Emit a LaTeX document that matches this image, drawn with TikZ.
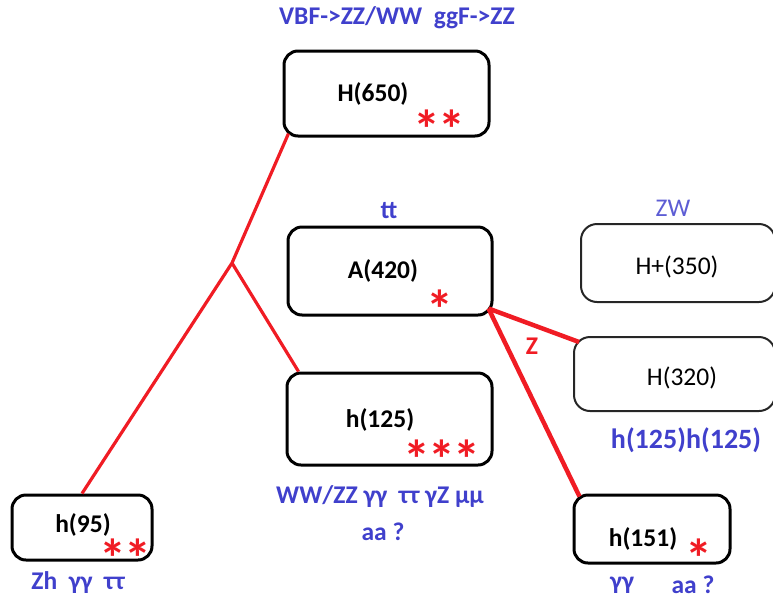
\documentclass[tikz,border=0pt]{standalone}
\usepackage{fontspec}
\setmainfont{Carlito}
\usepackage{tikz}

\definecolor{hblue}{RGB}{64,64,204}
\definecolor{hred}{RGB}{240,28,36}

\begin{document}
\begin{tikzpicture}[x=1pt, y=-1pt,
  box/.style = {draw, rounded corners=14pt, line width=3pt},
  thinbox/.style = {draw=black!85, rounded corners=16pt, line width=2pt},
  mass/.style = {font=\fontsize{25.5}{27}\selectfont\bfseries},
  thinmass/.style = {font=\fontsize{25.5}{27}\selectfont},
  decay/.style = {text=hblue, font=\fontsize{25.5}{27}\selectfont\bfseries},
  link/.style = {draw=hred, line width=3.2pt},
  star/.style = {text=hred, inner sep=0pt, yshift=-30pt, font=\fontsize{54}{54}\selectfont\bfseries}]
\useasboundingbox (0,0) rectangle (773,603);
% boxes
\node[box, minimum width=205pt, minimum height=85pt] (h650) at (386.5,93.5) {};
\node[box, minimum width=204pt, minimum height=88pt] (a420) at (390,271) {};
\node[box, minimum width=205pt, minimum height=92pt] (h125) at (389.5,419) {};
\node[thinbox, minimum width=194pt, minimum height=78pt] (hp350) at (678,263) {};
\node[thinbox, minimum width=201pt, minimum height=74pt] (h320) at (674.5,374) {};
\node[box, minimum width=140pt, minimum height=65pt] (h95) at (82,527.5) {};
\node[box, minimum width=156pt, minimum height=68pt] (h151) at (652,529) {};
% masses
\node[mass] (t650) at (373,94) {H(650)};
\node[mass] (t420) at (383,271) {A(420)};
\node[mass] (t125) at (380,420) {h(125)};
\node[thinmass] (t350) at (677,267) {H+(350)};
\node[thinmass] (t320) at (682,378) {H(320)};
\node[mass] (t95) at (83,525) {h(95)};
\node[mass] (t151) at (643,539) {h(151)};
% stars
\foreach \x/\y [count=\i] in {427/118, 452/118, 440/298, 417/448, 442/448, 467/448,
  113/547, 138/547, 699/547}
  \node[star] (s\i) at (\x,\y) {\smash{*}};
% decay channels
\node[decay] (d650) at (397,18) {VBF->ZZ/WW\ \ ggF->ZZ};
\node[decay] (d420) at (389,211) {tt};
\node[thinmass, text=hblue!85] (d350) at (673,208) {ZW};
\node[decay, font=\fontsize{28}{30}\selectfont\bfseries] (d320) at (686,440) {h(125)h(125)};
\node[decay] (d125) at (380,497) {WW/ZZ γγ\ \ ττ γZ μμ};
\node[decay] (d125b) at (383,532) {aa ?};
\node[decay] (d95) at (78,583) {Zh\ \ γγ\ \ ττ};
\node[decay] (d151) at (622,585) {γγ};
\node[decay] (d151b) at (693,585) {aa ?};
% links
\coordinate (fork) at (232,263);
\draw[link] (h95.north) -- (fork) -- ([xshift=6pt,yshift=4pt]h650.south west);
\draw[link] (fork) -- ([xshift=13pt]h125.north west);
\draw[link, line width=4.5pt] ([xshift=-5pt,yshift=8pt]a420.south east) -- ([xshift=6pt,yshift=-6pt]h320.north west);
\draw[link, line width=4.5pt] ([xshift=-5pt,yshift=8pt]a420.south east) -- ([xshift=7pt,yshift=-3pt]h151.north west);
\node[text=hred, font=\fontsize{25.5}{27}\selectfont\bfseries] (zlab) at (532,346) {Z};
\end{tikzpicture}
\end{document}
